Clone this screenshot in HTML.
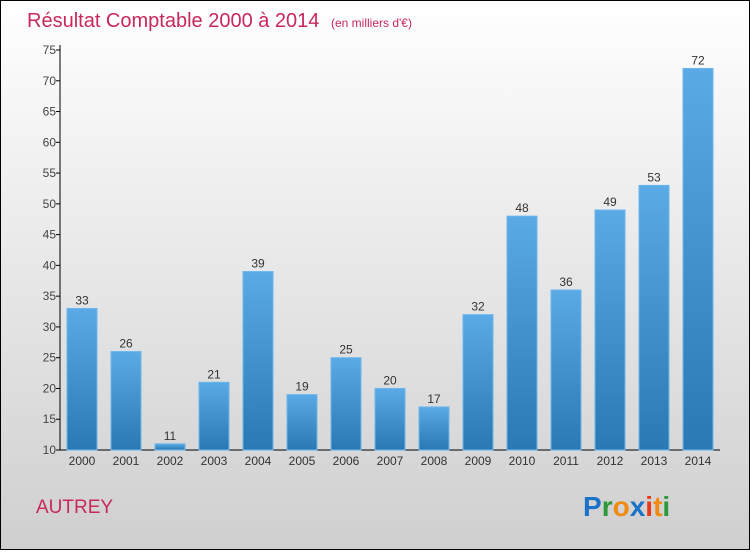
<!DOCTYPE html>
<html><head><meta charset="utf-8"><style>
body{margin:0;width:750px;height:550px;overflow:hidden;font-family:"Liberation Sans",sans-serif}
</style></head><body>
<svg width="750" height="550" xmlns="http://www.w3.org/2000/svg">
<defs>
<linearGradient id="bg" x1="0" y1="0" x2="0" y2="1"><stop offset="0" stop-color="#ffffff"/><stop offset="1" stop-color="#cfcfcf"/></linearGradient>
<linearGradient id="bar" x1="0" y1="0" x2="0" y2="1"><stop offset="0" stop-color="#5aaae6"/><stop offset="1" stop-color="#2a78b4"/></linearGradient>
</defs>
<rect x="0.5" y="0.5" width="749" height="549" fill="url(#bg)" stroke="#000"/>
<text x="27" y="27" font-size="20" fill="#c8285a">Résultat Comptable 2000 à 2014 <tspan font-size="12" dx="6">(en milliers d'€)</tspan></text>
<g id="axes"></g>
<g id="bars"></g>
<text x="36" y="513" font-size="19" fill="#c8285a">AUTREY</text>
<g font-size="28" font-weight="bold" font-family="'Liberation Sans',sans-serif">
<text x="583" y="516"><tspan fill="#1a73c8">P</tspan><tspan fill="#2a9a3a">r</tspan><tspan fill="#f08a10">o</tspan><tspan fill="#1a73c8">x</tspan><tspan fill="#e83a1a">i</tspan><tspan fill="#f08a10">t</tspan><tspan fill="#2a9a3a">i</tspan></text>
</g>
</svg>
<script>
const years=["2000","2001","2002","2003","2004","2005","2006","2007","2008","2009","2010","2011","2012","2013","2014"];
const values=[33,26,11,21,39,19,25,20,17,32,48,36,49,53,72];
const yTicks=[10,15,20,25,30,35,40,45,50,55,60,65,70,75];
const NS="http://www.w3.org/2000/svg";
const x0=60,band=44,yMin=10,yMax=75,yTop=50,yBot=450;
const y=v=>yBot-(v-yMin)/(yMax-yMin)*(yBot-yTop);
const xc=i=>x0+band*i+band/2;
function mk(t,a,p){const e=document.createElementNS(NS,t);for(const k in a)e.setAttribute(k,a[k]);p.appendChild(e);return e;}
const ax=document.getElementById('axes'),bg=document.getElementById('bars');
const yl=mk('line',{x1:x0,y1:yTop-5,x2:x0,y2:yBot,stroke:'#000'},ax);


const xl=mk('line',{x1:x0,y1:yBot,x2:x0+band*years.length,y2:yBot,stroke:'#000'},ax);


yTicks.forEach(v=>{
 mk('line',{x1:x0-4,y1:y(v),x2:x0,y2:y(v),stroke:'#000'},ax);
 const t=mk('text',{x:x0-4,y:y(v)+4,'font-size':12,fill:'#444','text-anchor':'end'},ax);
 t.textContent=v;
 
 
});
years.forEach((yr,i)=>{
 const v=values[i];
 const r=mk('rect',{x:xc(i)-15,y:y(v),width:30,height:yBot-y(v),fill:'url(#bar)',stroke:'#6cb6ee','stroke-width':1},bg);
 
 
 const l=mk('text',{x:xc(i),y:y(v)-4,'font-size':12,fill:'#333','text-anchor':'middle'},bg);
 l.textContent=v;
 
 
 const t=mk('text',{x:xc(i),y:yBot+15,'font-size':12,fill:'#333','text-anchor':'middle'},ax);
 t.textContent=yr;
 
 
});
</script>
</body></html>
